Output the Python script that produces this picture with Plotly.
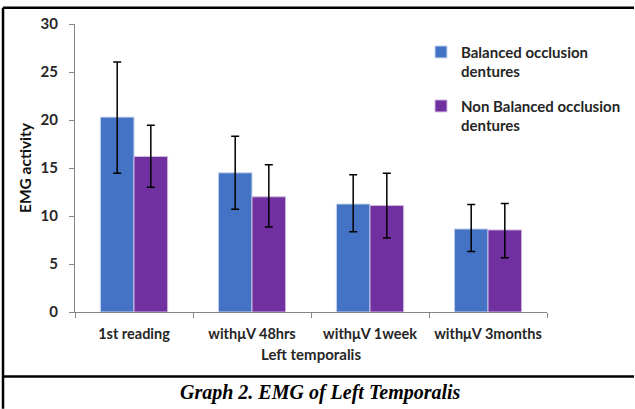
import plotly.graph_objects as go

categories = ["1st reading", "withμV 48hrs", "withμV 1week", "withμV 3months"]
balanced = [20.3, 14.5, 11.25, 8.65]
balanced_err_plus = [5.75, 3.8, 3.05, 2.55]
balanced_err_minus = [5.85, 3.8, 2.9, 2.35]
nonbalanced = [16.2, 12.0, 11.1, 8.55]
nonbalanced_err_plus = [3.25, 3.35, 3.35, 2.75]
nonbalanced_err_minus = [3.2, 3.15, 3.4, 2.9]
series_names = ["Balanced occlusion<br>dentures", "Non Balanced occlusion<br>dentures"]
y_ticks = [0, 5, 10, 15, 20, 25, 30]

FONT = "Lato"
TXT = "#262626"
fig = go.Figure()
fig.add_trace(go.Bar(
    x=categories, y=balanced, name=series_names[0], legendgroup="a",
    marker=dict(color="#4472C4", line=dict(color="#C9D6EE", width=1)),
    error_y=dict(type="data", symmetric=False, array=balanced_err_plus,
                 arrayminus=balanced_err_minus, color="black", thickness=1.5, width=4),
))
fig.add_trace(go.Bar(
    x=categories, y=nonbalanced, name=series_names[1], legendgroup="b",
    marker=dict(color="#7030A0", line=dict(color="#D2BDE0", width=1)),
    error_y=dict(type="data", symmetric=False, array=nonbalanced_err_plus,
                 arrayminus=nonbalanced_err_minus, color="black", thickness=1.5, width=4),
))

W, H = 635, 409
L, R, T, B = 75, 547, 24.3, 312.3
pw, ph = R - L, B - T

def px(x):
    return (x - L) / pw

def py(y):
    return (B - y) / ph

line = dict(color="black", width=2.5)
shapes = [
    dict(type="line", xref="paper", yref="paper", x0=px(3), x1=px(W - 1), y0=py(8), y1=py(8), line=line),
    dict(type="line", xref="paper", yref="paper", x0=px(3), x1=px(3), y0=py(8), y1=py(H), line=line),
    dict(type="line", xref="paper", yref="paper", x0=px(3), x1=px(W - 1), y0=py(376.7), y1=py(376.7), line=line),
]

fig.update_layout(
    width=W, height=H,
    margin=dict(l=L, r=W - R, t=T, b=H - B, pad=0, autoexpand=False),
    paper_bgcolor="white", plot_bgcolor="white",
    barmode="group", bargap=0.43, bargroupgap=0,
    font=dict(family=FONT, size=15, color=TXT),
    showlegend=True,
    legend=dict(x=px(421), y=py(36), xanchor="left", yanchor="top",
                font=dict(family=FONT, size=15, color=TXT, weight="bold"),
                bgcolor="rgba(0,0,0,0)", traceorder="grouped", tracegroupgap=12,
                valign="top", itemwidth=30),
    shapes=shapes,
    annotations=[
        dict(text="<b><i>Graph 2. EMG of Left Temporalis</i></b>", xref="paper", yref="paper",
             x=px(320), y=py(393), xanchor="center", yanchor="middle", showarrow=False,
             font=dict(family="Liberation Serif", size=20, color="black")),
    ],
)
fig.update_xaxes(
    showline=True, linecolor="#868686", linewidth=1, automargin=False,
    ticks="outside", tickson="boundaries", ticklen=5, tickcolor="#868686",
    ticklabelstandoff=9, tickangle=0,
    tickfont=dict(family=FONT, size=14.5, color=TXT, weight="bold"),
    title=dict(text="<b>Left temporalis</b>", font=dict(family=FONT, size=15, color=TXT), standoff=8),
    showgrid=False,
)
fig.update_yaxes(
    range=[0, 30], tickvals=y_ticks, showline=True, linecolor="#868686", linewidth=1,
    automargin=False,
    ticks="outside", ticklen=5, tickcolor="#868686", ticklabelstandoff=8,
    tickfont=dict(family=FONT, size=15, color=TXT, weight="bold"),
    title=dict(text="<b>EMG activity</b>", font=dict(family=FONT, size=15.5, color="#111111"), standoff=5),
    showgrid=False, zeroline=False,
)
fig.write_html("out.html", config={"displayModeBar": False},
               post_script="document.body.style.margin='0';document.body.style.overflow='hidden';")
